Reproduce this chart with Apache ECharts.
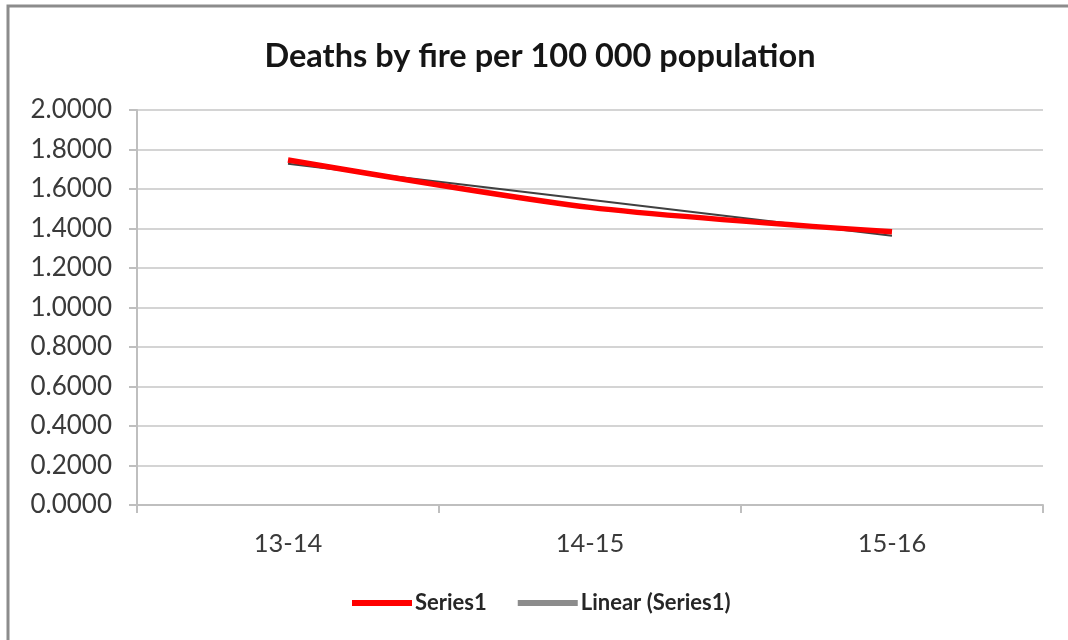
<!DOCTYPE html>
<html>
<head>
<meta charset="utf-8">
<script src="https://cdn.jsdelivr.net/npm/echarts@6/dist/echarts.min.js"></script>
<style>
  html, body { margin: 0; padding: 0; background: #fff; overflow: hidden; }
  #chart { width: 1068px; height: 640px; }
</style>
</head>
<body>
<div id="chart"></div>
<script>
// Seasons on the category axis
const seasons = ['13-14', '14-15', '15-16'];
// Deaths by fire per 100 000 population
const deathsPerHundredK = [1.747, 1.507, 1.383];
// Linear trendline end points (first and last season)
const trendValues = [1.728, null, 1.363];
// Value axis ticks
const yTicks = { min: 0, max: 2, step: 0.2 };

const FONT = 'Lato, "Open Sans", sans-serif';

const chart = echarts.init(document.getElementById('chart'), null, { renderer: 'canvas' });

chart.setOption({
  backgroundColor: '#ffffff',
  animation: false,
  title: {
    text: 'Deaths by fire per 100 000 population',
    left: 535,
    textAlign: 'center',
    top: 35,
    textStyle: { fontFamily: FONT, fontSize: 32.5, fontWeight: 'bold', color: '#151515' }
  },
  // chart frame: left and top edges
  graphic: [{
    type: 'polyline',
    shape: { points: [[8, 700], [8, 6], [1100, 6]] },
    style: { fill: null, stroke: '#8c8c8c', lineWidth: 3 },
    silent: true
  }],
  legend: {
    left: 352,
    top: 592,
    padding: 0,
    itemWidth: 60,
    itemHeight: 6,
    itemGap: 31,
    icon: 'rect',
    textStyle: { fontFamily: FONT, fontSize: 22, fontWeight: 'bold', color: '#262626', padding: [0, 0, 0, -2] },
    data: [
      { name: 'Series1', itemStyle: { color: '#ff0000' } },
      { name: 'Linear (Series1)', itemStyle: { color: '#8c8c8c' } }
    ]
  },
  grid: { left: 137, right: 25, top: 110, bottom: 135 },
  xAxis: {
    type: 'category',
    data: seasons,
    boundaryGap: true,
    axisLine: { show: true, lineStyle: { color: '#bfbfbf', width: 2 } },
    axisTick: { show: true, length: 8, lineStyle: { color: '#bfbfbf', width: 2 } },
    axisLabel: { fontFamily: FONT, fontSize: 25.5, color: '#3a3a3a', margin: 26 }
  },
  yAxis: {
    type: 'value',
    min: yTicks.min,
    max: yTicks.max,
    interval: yTicks.step,
    axisLine: { show: true, lineStyle: { color: '#bfbfbf', width: 2 } },
    axisTick: { show: true, length: 8, lineStyle: { color: '#bfbfbf', width: 2 } },
    axisLabel: {
      fontFamily: FONT, fontSize: 26, color: '#3a3a3a', margin: 25,
      formatter: v => v.toFixed(4)
    },
    splitLine: { show: true, lineStyle: { color: '#d4d4d4', width: 2 } }
  },
  series: [
    {
      name: 'Linear (Series1)',
      type: 'line',
      data: trendValues,
      connectNulls: true,
      symbol: 'none',
      z: 2,
      lineStyle: { color: '#404040', width: 2 },
      itemStyle: { color: '#8c8c8c' }
    },
    {
      name: 'Series1',
      type: 'line',
      data: deathsPerHundredK,
      smooth: 0.25,
      symbol: 'none',
      z: 3,
      lineStyle: { color: '#ff0000', width: 5.5 },
      itemStyle: { color: '#ff0000' }
    }
  ]
});
</script>
</body>
</html>
